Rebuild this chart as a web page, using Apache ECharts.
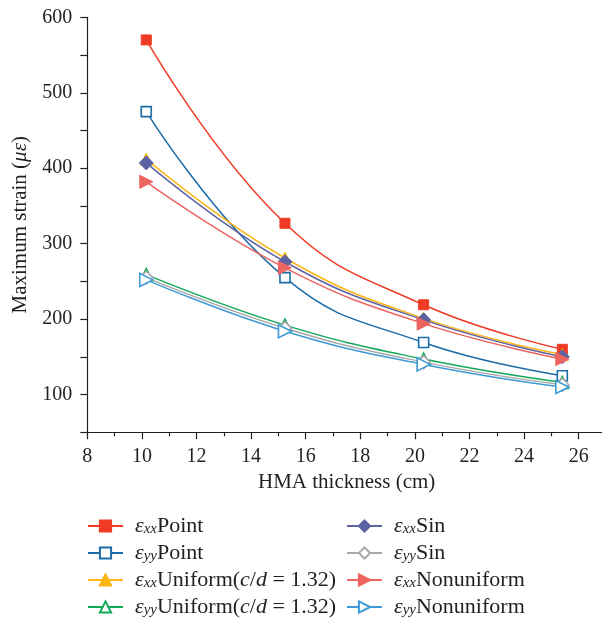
<!DOCTYPE html>
<html>
<head>
<meta charset="utf-8">
<script src="https://cdn.jsdelivr.net/npm/echarts@6/dist/echarts.min.js"></script>
<style>
  html, body { margin: 0; padding: 0; background: #fff; }
  #chart { width: 602px; height: 624px; }
</style>
</head>
<body>
<div id="chart"></div>
<script>
// HMA thickness (cm)
const thickness = [10.16, 15.24, 20.32, 25.4];

// Maximum strain (με) for each loading case
const exxPoint = [570, 327, 219, 160];
const eyyPoint = [475, 255, 169, 125];
const exxUniform = [412, 281, 201, 153];
const eyyUniform = [259, 192, 147, 116];
const exxSin = [407, 276, 199, 150];
const eyySin = [255, 188, 143, 113];
const exxNonuniform = [382, 268, 194, 147];
const eyyNonuniform = [252, 184, 140, 110];

const xTicks = [8, 10, 12, 14, 16, 18, 20, 22, 24, 26];
const yTicks = [100, 200, 300, 400, 500, 600];

const serif = '"Liberation Serif", "Times New Roman", Times, serif';
const ink = '#231F20';

function pairs(ys) {
  return thickness.map((x, i) => [x, ys[i]]);
}

function makeSeries(name, values, color, symbol, filled, size, rotate) {
  return {
    name: name,
    type: 'line',
    data: pairs(values),
    smooth: 0.45,
    symbol: symbol,
    symbolSize: size,
    symbolRotate: rotate || 0,
    showAllSymbol: true,
    lineStyle: { color: color, width: 1.5 },
    itemStyle: filled
      ? { color: color, borderColor: color, borderWidth: 1 }
      : { color: '#ffffff', borderColor: color, borderWidth: 1.6 },
    emphasis: { disabled: true },
    z: 2
  };
}

const series = [
  makeSeries('xx|Point', exxPoint, '#EF3B24', 'rect', true, 10),
  makeSeries('yy|Point', eyyPoint, '#1B6CA8', 'rect', false, 10),
  makeSeries('xx|Uniform', exxUniform, '#FDB515', 'triangle', true, 12),
  makeSeries('yy|Uniform', eyyUniform, '#12A85A', 'triangle', false, 12),
  makeSeries('xx|Sin', exxSin, '#5D63A2', 'diamond', true, 14),
  makeSeries('yy|Sin', eyySin, '#A8A8A8', 'diamond', false, 13),
  makeSeries('xx|Nonuniform', exxNonuniform, '#EE6460', 'triangle', true, 13, -90),
  makeSeries('yy|Nonuniform', eyyNonuniform, '#3E9AD6', 'triangle', false, 13, -90)
];

// Legend label: italic ε with italic subscript, then the case name
function legendLabel(name) {
  const parts = name.split('|');
  let tail = '{t|' + parts[1] + '}';
  if (parts[1] === 'Uniform') {
    tail = '{t|Uniform(}{i|c}{t|/}{i|d}{t| = 1.32)}';
  }
  return '{e|ε}{s|' + parts[0] + '}' + tail;
}

const legendRich = {
  e: { fontFamily: serif, fontStyle: 'italic', fontSize: 22, color: ink, padding: [0, 0, 0, 7], lineHeight: 20 },
  s: { fontFamily: serif, fontStyle: 'italic', fontSize: 15, color: ink, padding: [7, 0, 0, 0], lineHeight: 16 },
  t: { fontFamily: serif, fontStyle: 'normal', fontSize: 22, color: ink, lineHeight: 20 },
  i: { fontFamily: serif, fontStyle: 'italic', fontSize: 22, color: ink, lineHeight: 20 }
};

function legendBlock(names, left) {
  return {
    data: names,
    orient: 'vertical',
    left: left,
    top: 510,
    height: 140,
    itemWidth: 35,
    itemHeight: 14,
    itemGap: 5,
    selectedMode: false,
    formatter: legendLabel,
    textStyle: { fontFamily: serif, rich: legendRich, color: ink }
  };
}

const option = {
  animation: false,
  backgroundColor: '#ffffff',
  textStyle: { fontFamily: serif },
  grid: {
    left: 87.3, top: 17.3, right: -4, bottom: 191.7,
    containLabel: false,
    outerBoundsMode: 'none'
  },
  legend: [
    legendBlock(['xx|Point', 'yy|Point', 'xx|Uniform', 'yy|Uniform'], 82),
    legendBlock(['xx|Sin', 'yy|Sin', 'xx|Nonuniform', 'yy|Nonuniform'], 341)
  ],
  xAxis: {
    type: 'value',
    min: 8,
    max: 27,
    interval: 2,
    name: 'HMA thickness (cm)',
    nameLocation: 'middle',
    nameGap: 40,
    nameTextStyle: { fontFamily: serif, fontSize: 21, color: ink },
    axisLine: { show: true, lineStyle: { color: ink, width: 1.2 } },
    axisTick: { show: true, inside: false, length: 7, lineStyle: { color: ink, width: 1.2 } },
    minorTick: { show: true, splitNumber: 2, length: 4, lineStyle: { color: ink, width: 1.2 } },
    axisLabel: {
      fontFamily: serif, fontSize: 20, color: ink, margin: 14,
      showMaxLabel: false,
      formatter: v => (xTicks.indexOf(v) >= 0 ? String(v) : '')
    },
    splitLine: { show: false }
  },
  yAxis: {
    type: 'value',
    min: 50,
    max: 600,
    interval: 50,
    name: 'Maximum strain ({i|με})',
    nameLocation: 'middle',
    nameGap: 53,
    nameTextStyle: {
      fontFamily: serif, fontSize: 21, color: ink,
      rich: { i: { fontFamily: serif, fontStyle: 'italic', fontSize: 21, color: ink } }
    },
    axisLine: { show: true, lineStyle: { color: ink, width: 1.2 } },
    axisTick: { show: true, inside: false, length: 7, lineStyle: { color: ink, width: 1.2 } },
    axisLabel: {
      fontFamily: serif, fontSize: 20, color: ink, margin: 15,
      formatter: v => (yTicks.indexOf(v) >= 0 ? String(v) : '')
    },
    splitLine: { show: false }
  },
  series: series
};

const chart = echarts.init(document.getElementById('chart'), null, { renderer: 'canvas' });
chart.setOption(option);
</script>
</body>
</html>
